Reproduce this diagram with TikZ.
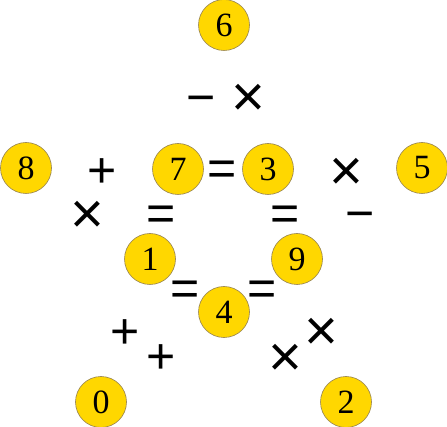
\documentclass[tikz,border=0pt]{standalone}
\usepackage{fontspec}
\setmainfont{Liberation Serif}
\newfontfamily\opfont{Liberation Sans}
\usetikzlibrary{positioning}

\definecolor{gold}{RGB}{255,215,0}
\definecolor{ringgray}{RGB}{150,130,80}

\tikzset{
  digit/.style={circle,draw=ringgray,fill=gold,line width=0.6pt,
    minimum size=51pt,inner sep=0pt,
    font=\fontsize{34}{34}\selectfont},
  op/.style={inner sep=0pt,text height=34.5pt,text depth=0pt,
    font=\opfont\fontsize{50}{50}\selectfont},
  times/.style={op,text height=40pt,font=\opfont\fontsize{58}{58}\selectfont}
}

\begin{document}
\begin{tikzpicture}[x=1pt,y=-1pt]
  \useasboundingbox (0,0) rectangle (447,427);
  % numbers
  \node[digit] (n6) at (224,25)  {6};
  \node[digit] (n8) at (26,168)  {8};
  \node[digit] (n7) at (178,169) {7};
  \node[digit] (n3) at (268,169) {3};
  \node[digit] (n5) at (422,168) {5};
  \node[digit] (n1) at (150,259) {1};
  \node[digit] (n9) at (297,259) {9};
  \node[digit] (n4) at (224,312) {4};
  \node[digit] (n0) at (101,402) {0};
  \node[digit] (n2) at (346,402) {2};
  % operators
  \node[op] (minusA)    at (201,97)  {−};
  \node[times] (timesA) at (248,97)  {×};
  \node[op] (plusA)     at (102,170) {+};
  \node[op] (eqA)       at (222,168) {=};
  \node[times] (timesB) at (346,171) {×};
  \node[times] (timesC) at (87,214)  {×};
  \node[op] (eqB)       at (161,213) {=};
  \node[op] (eqC)       at (285,213) {=};
  \node[op] (minusB)    at (360,213) {−};
  \node[op] (eqD)       at (185,288) {=};
  \node[op] (eqE)       at (262,288) {=};
  \node[op] (plusB)     at (125,331) {+};
  \node[op] (plusC)     at (161,356) {+};
  \node[times] (timesD) at (321,331) {×};
  \node[times] (timesE) at (285,357) {×};
\end{tikzpicture}
\end{document}
